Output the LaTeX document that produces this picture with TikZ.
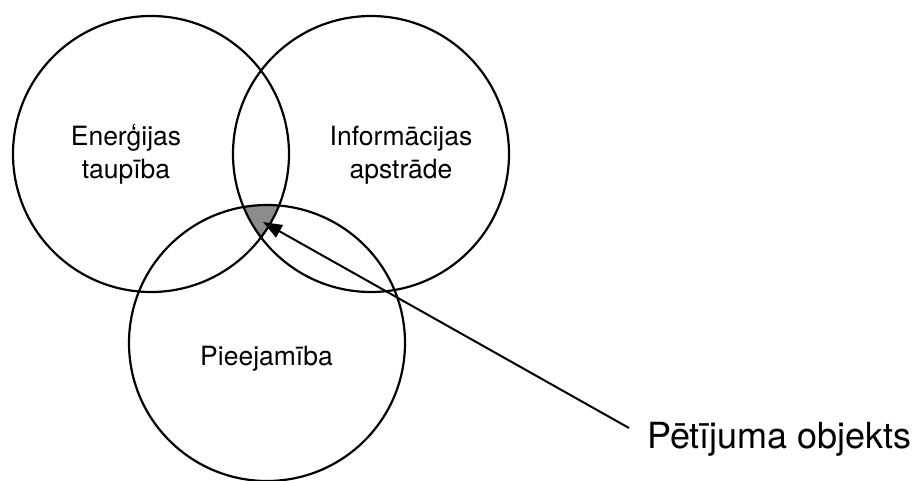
\documentclass[tikz,border=0pt]{standalone}
\usepackage{fontspec}
\setmainfont{TeX Gyre Heros}
\usetikzlibrary{arrows.meta}
\begin{document}
\begin{tikzpicture}[x=1pt,y=-1pt,
  setring/.style={circle, draw=black, line width=2.2pt, minimum size=276pt, inner sep=0pt},
  ringlabel/.style={align=center, anchor=base, inner sep=0pt,
    font=\fontsize{26.5}{33}\selectfont},
  pointer/.style={line width=2pt, -{Triangle[length=19pt,width=14pt]}}]
  \useasboundingbox (0,0) rectangle (920,480);
  % shared region of all three sets
  \begin{scope}
    \clip (151,154) circle (138);
    \clip (371,154) circle (138);
    \fill[fill={rgb,255:red,140;green,140;blue,140}] (267,343) circle (138);
  \end{scope}
  \node[setring] (energy) at (151,154) {};
  \node[setring] (info) at (371,154) {};
  \node[setring] (access) at (267,343) {};
  % base anchor sits on the last line of a two-line label
  \node[ringlabel] (energyT) at (126,178) {Enerģijas\\taupība};
  \node[ringlabel] (infoT) at (401,178) {Informācijas\\apstrāde};
  \node[ringlabel] (accessT) at (266.5,365) {Pieejamība};
  \node[anchor=base west, inner sep=0pt, font=\fontsize{36}{40}\selectfont] (obj) at (647,448) {Pētījuma objekts};
  \coordinate (tail) at (629,428);
  \coordinate (tip) at (263,222);
  \draw[pointer] (tail) -- (tip);
\end{tikzpicture}
\end{document}
